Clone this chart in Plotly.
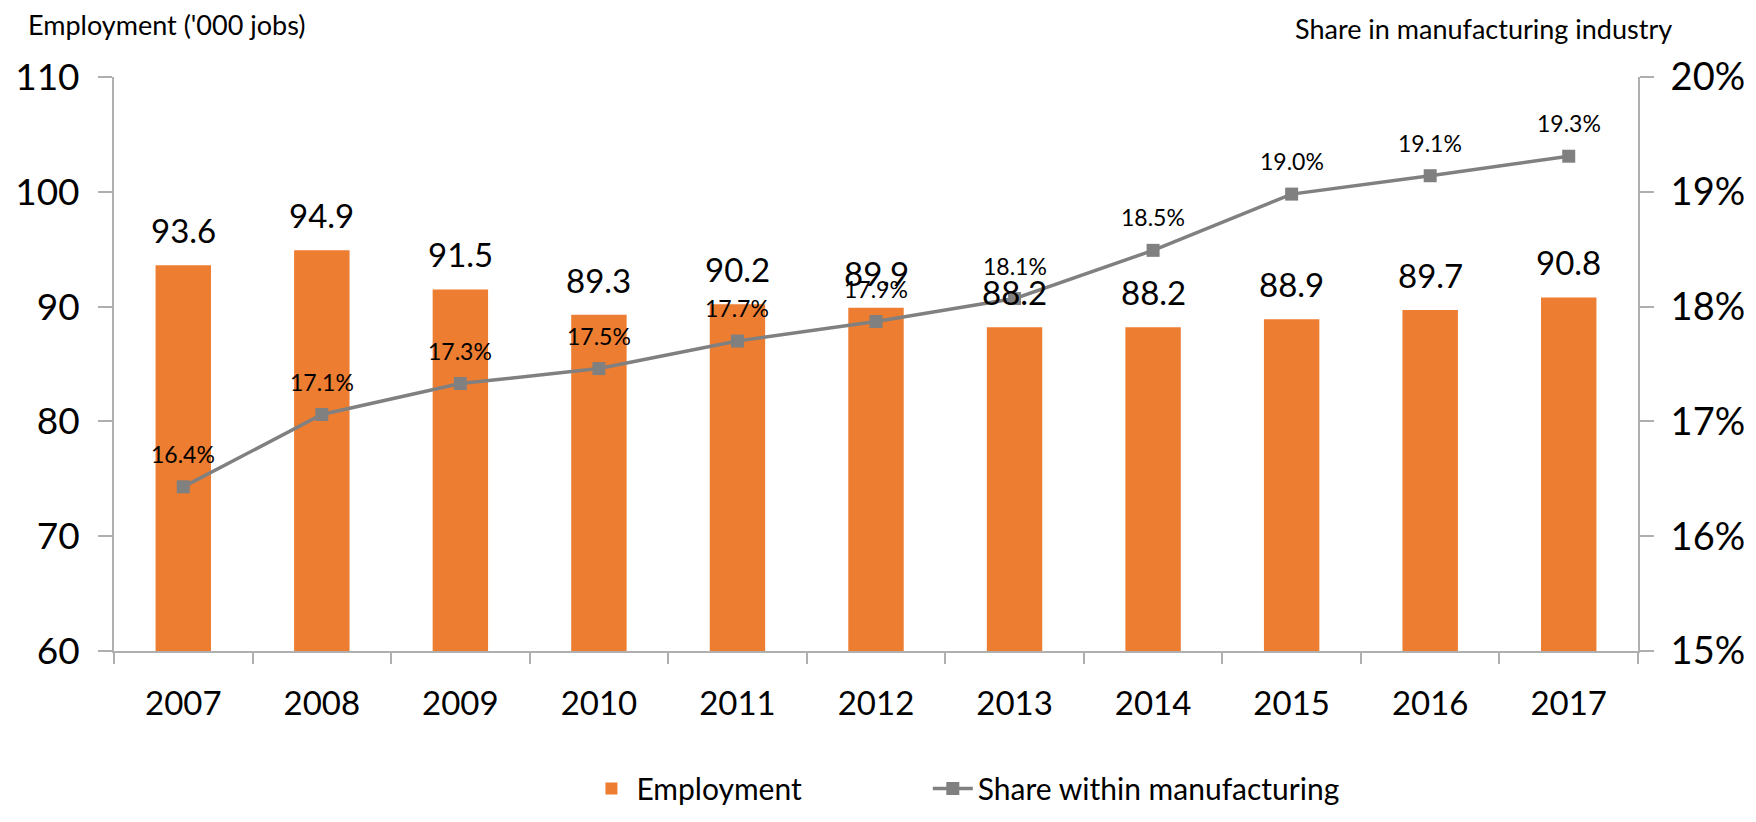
import plotly.graph_objects as go

years = ["2007", "2008", "2009", "2010", "2011", "2012", "2013", "2014", "2015", "2016", "2017"]
employment = [93.6, 94.9, 91.5, 89.3, 90.2, 89.9, 88.2, 88.2, 88.9, 89.7, 90.8]
share = [0.1643, 0.1706, 0.1733, 0.1746, 0.1770, 0.1787, 0.1807, 0.1849, 0.1898, 0.1914, 0.1931]

left_ticks = [60, 70, 80, 90, 100, 110]
right_ticks = [0.15, 0.16, 0.17, 0.18, 0.19, 0.20]

FONT = "Lato"
BAR = "#ED7D31"
LINE = "#808080"
AXIS = "#AFAFAF"

fig = go.Figure()
fig.add_trace(go.Bar(
    x=years, y=employment, name="Employment",
    marker=dict(color=BAR, line=dict(width=0)),
    yaxis="y", hoverinfo="x+y", legend="legend",
))
fig.add_trace(go.Scatter(
    x=years, y=share, name="Share within manufacturing",
    mode="lines+markers", yaxis="y2", legend="legend2",
    line=dict(color=LINE, width=3.5),
    marker=dict(symbol="square", size=13, color=LINE),
))

annotations = []
for i, v in enumerate(employment):
    annotations.append(dict(x=i, y=v, xref="x", yref="y", text=f"{v:.1f}",
                            showarrow=False, yanchor="middle", yshift=35,
                            font=dict(family=FONT, size=33, color="#000000")))
for i, v in enumerate(share):
    annotations.append(dict(x=i, y=v, xref="x", yref="y2", text=f"{v*100:.1f}%",
                            showarrow=False, yanchor="middle", yshift=33,
                            font=dict(family=FONT, size=23, color="#000000")))
annotations.append(dict(x=-0.0577, y=1.092, xref="paper", yref="paper",
                        text="Employment ('000 jobs)", showarrow=False,
                        xanchor="left", yanchor="middle",
                        font=dict(family=FONT, size=27, color="#000000")))
annotations.append(dict(x=1.0236, y=1.085, xref="paper", yref="paper",
                        text="Share in manufacturing industry", showarrow=False,
                        xanchor="right", yanchor="middle",
                        font=dict(family=FONT, size=27, color="#000000")))

legend_style = dict(orientation="h", xanchor="left", y=-0.285, yanchor="bottom",
                    font=dict(family=FONT, size=30, color="#000000"), itemwidth=40)

# the page body has an 8px default margin, so the figure is 8px smaller and the
# left/top margins 8px smaller to land the plot area where the reference has it
fig.update_layout(
    width=1748, height=814,
    margin=dict(l=106, r=118, t=69, b=171, pad=0, autoexpand=False),
    paper_bgcolor="white", plot_bgcolor="white",
    font=dict(family=FONT, color="#000000"),
    bargap=0.6,
    showlegend=True,
    legend=dict(x=0.310, **legend_style),
    legend2=dict(x=0.534, **legend_style),
    xaxis=dict(
        type="category", range=[-0.5, len(years) - 0.5], autorange=False,
        showgrid=False, showline=True, linecolor=AXIS, linewidth=2,
        ticks="outside", tickson="boundaries", ticklen=11, tickcolor=AXIS, tickwidth=2,
        tickfont=dict(family=FONT, size=33, color="#000000"), ticklabelstandoff=22,
        tickangle=0, zeroline=False, automargin=False,
    ),
    yaxis=dict(
        range=[60, 110], tickvals=left_ticks, ticktext=[str(t) for t in left_ticks],
        showgrid=False, showline=True, linecolor=AXIS, linewidth=2,
        ticks="outside", ticklen=14, tickcolor=AXIS, tickwidth=2,
        tickfont=dict(family=FONT, size=37, color="#000000"), ticklabelstandoff=11,
        zeroline=False, automargin=False,
    ),
    yaxis2=dict(
        range=[0.15, 0.20], tickvals=right_ticks, tickformat=".0%",
        overlaying="y", side="right",
        showgrid=False, showline=True, linecolor=AXIS, linewidth=2,
        ticks="outside", ticklen=14, tickcolor=AXIS, tickwidth=2,
        tickfont=dict(family=FONT, size=38, color="#000000"), ticklabelstandoff=9,
        zeroline=False, automargin=False,
    ),
    annotations=annotations,
)

fig.write_html("out.html")
